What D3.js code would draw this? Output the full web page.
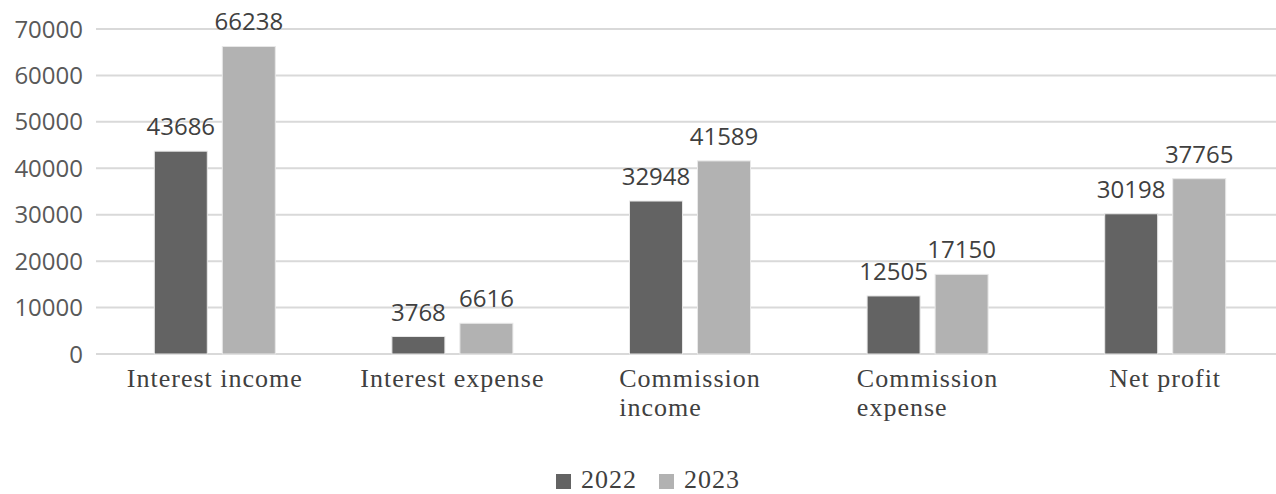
<!DOCTYPE html>
<html>
<head>
<meta charset="utf-8">
<script src="https://cdn.jsdelivr.net/npm/d3@7"></script>
<style>
  body { margin: 0; background: #fff; }
  svg { display: block; }
</style>
</head>
<body>
<div id="chartContainer"></div>
<script>
const categories = [["Interest income"], ["Interest expense"], ["Commission", "income"], ["Commission", "expense"], ["Net profit"]];
const years = ["2022", "2023"];
const values2022 = [43686, 3768, 32948, 12505, 30198];
const values2023 = [66238, 6616, 41589, 17150, 37765];
const yTicks = [0, 10000, 20000, 30000, 40000, 50000, 60000, 70000];

const width = 1276;
const height = 494;
const colors = { "2022": "#636363", "2023": "#b2b2b2" };

let svg = d3.select("#chartContainer")
    .append("svg")
    .attr("width", width)
    .attr("height", height);

let catNames = categories.map((d) => d.join(" "));
let data = catNames.map((c, i) => ({ cat: c, lines: categories[i], "2022": values2022[i], "2023": values2023[i] }));

let xScale = d3.scaleBand().domain(catNames).range([96, 1284]);
let step = xScale.bandwidth();
let x1 = d3.scaleBand().domain(years).range([step / 2 - 60.5, step / 2 + 60.5]).paddingInner(0.221);
let yScale = d3.scaleLinear().domain([0, 70000]).range([354, 29]);

// gridlines
svg.append("g")
    .selectAll("line")
    .data(yTicks)
    .join("line")
    .attr("x1", 96)
    .attr("x2", width)
    .attr("y1", (d) => yScale(d))
    .attr("y2", (d) => yScale(d))
    .attr("stroke", "#d9d9d9")
    .attr("stroke-width", 2);

// y axis labels
svg.append("g")
    .selectAll("text")
    .data(yTicks)
    .join("text")
    .attr("x", 83)
    .attr("y", (d) => yScale(d))
    .attr("dy", "0.36em")
    .attr("text-anchor", "end")
    .attr("font-family", "Open Sans")
    .attr("font-size", 24)
    .attr("fill", "#595959")
    .text((d) => d);

// bars
let groups = svg.append("g")
    .selectAll("g")
    .data(data)
    .join("g")
    .attr("transform", (d) => "translate(" + xScale(d.cat) + ",0)");

groups.selectAll("rect")
    .data((d) => years.map((y) => ({ year: y, value: d[y] })))
    .join("rect")
    .attr("x", (d) => x1(d.year))
    .attr("width", x1.bandwidth())
    .attr("y", (d) => yScale(d.value))
    .attr("height", (d) => yScale(0) - yScale(d.value))
    .attr("fill", (d) => colors[d.year])
    .attr("stroke", "#e8e8e8")
    .attr("stroke-width", 1);

// data labels
groups.selectAll("text.val")
    .data((d) => years.map((y) => ({ year: y, value: d[y] })))
    .join("text")
    .attr("class", "val")
    .attr("x", (d) => x1(d.year) + x1.bandwidth() / 2)
    .attr("y", (d) => yScale(d.value) - 16)
    .attr("text-anchor", "middle")
    .attr("font-family", "Open Sans")
    .attr("font-size", 24)
    .attr("fill", "#404040")
    .text((d) => d.value);

// category labels (wrapped lines left aligned, block centered)
let catLabels = svg.append("g")
    .selectAll("text")
    .data(data)
    .join("text")
    .attr("font-family", "Liberation Serif")
    .attr("font-size", 26)
    .attr("letter-spacing", 1)
    .attr("fill", "#404040")
    .attr("text-anchor", "start");

catLabels.each(function (d) {
    let t = d3.select(this);
    d.lines.forEach((line, i) => {
        t.append("tspan").attr("y", 387 + i * 29).text(line);
    });
    let w = d3.max(t.selectAll("tspan").nodes(), (n) => n.getComputedTextLength());
    let left = xScale(d.cat) + step / 2 - w / 2;
    t.selectAll("tspan").attr("x", left);
});

// legend
let legend = svg.append("g").attr("transform", "translate(556,0)");
let legendX = [0, 103];
years.forEach((y, i) => {
    legend.append("rect")
        .attr("x", legendX[i])
        .attr("y", 474)
        .attr("width", 15)
        .attr("height", 15)
        .attr("fill", colors[y]);
    legend.append("text")
        .attr("x", legendX[i] + 25)
        .attr("y", 488)
        .attr("font-family", "Liberation Serif")
        .attr("font-size", 26)
        .attr("letter-spacing", 1)
        .attr("fill", "#404040")
        .text(y);
});
</script>
</body>
</html>
